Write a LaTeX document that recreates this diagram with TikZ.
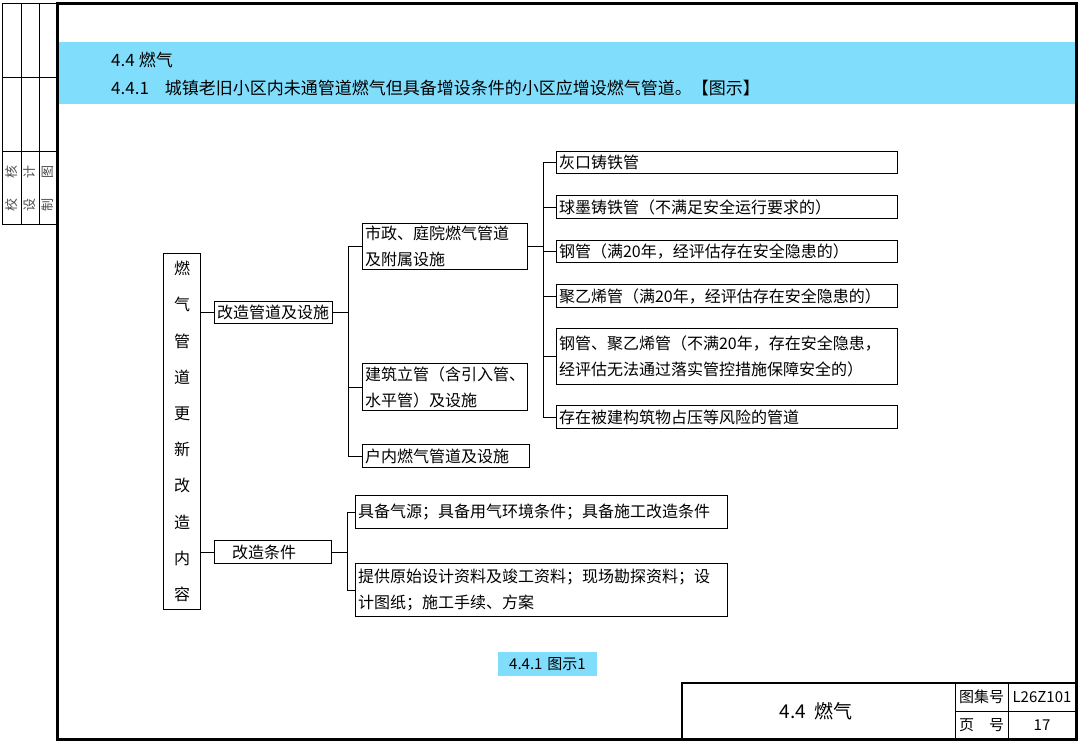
\documentclass[tikz,border=0pt]{standalone}
\usepackage{fontspec}
\setmainfont{Noto Sans CJK SC}
\usetikzlibrary{positioning}
\definecolor{bandcyan}{RGB}{128,222,252}

\begin{document}
\begin{tikzpicture}[x=1pt, y=-1pt,
	every node/.style={font=\fontsize{16}{26}\selectfont, inner sep=0pt},
	itembox/.style={draw, line width=1.1pt, anchor=north west, align=left, inner xsep=2.5pt},
	link/.style={line width=1.1pt},
	striptext/.style={rotate=90, font=\fontsize{13}{13}\selectfont, text=black!70}]
	\useasboundingbox (0,0) rectangle (1080,744);
	% header band and frame
	\fill[bandcyan] (57,42) rectangle (1076,104);
	\draw[line width=3pt] (57,3.5) rectangle (1076,739.5);
	\draw[line width=1pt] (2,3.5) rectangle (57,224) (21,3.5) -- (21,224) (39,3.5) -- (39,224) (2,77) -- (57,77) (2,151) -- (57,151);
	\node[striptext] (chk) at (11.5,188) {校\hspace{20pt}核};
	\node[striptext] (dsg) at (30,188) {设\hspace{20pt}计};
	\node[striptext] (drw) at (48,188) {制\hspace{20pt}图};
	\node[anchor=west, font=\fontsize{17}{17}\selectfont] (sec) at (111,60) {4.4\hspace{4pt}燃气};
	\node[anchor=west, font=\fontsize{17}{17}\selectfont] (clause) at (111,88) {4.4.1\hspace{16pt}城镇老旧小区内未通管道燃气但具备增设条件的小区应增设燃气管道。【图示】};
	% tree
	\node[itembox, align=center, text width=32pt, minimum height=356pt, font=\fontsize{16}{36.2}\selectfont] (root) at (163,253) {燃\\气\\管\\道\\更\\新\\改\\造\\内\\容};
	\node[itembox, text width=113pt, minimum height=22pt] (g1) at (214,301) {改造管道及设施};
	\node[itembox, text width=112pt, minimum height=23pt] (g2) at (214,540) {\hspace{15pt}改造条件};
	\node[itembox, text width=160pt, minimum height=46pt] (b1) at (362,223) {市政、庭院燃气管道\\及附属设施};
	\node[itembox, text width=160pt, minimum height=47pt] (b2) at (362,363) {建筑立管（含引入管、\\水平管）及设施};
	\node[itembox, text width=162pt, minimum height=23pt] (b3) at (362,444) {户内燃气管道及设施};
	\node[itembox, text width=336pt, minimum height=22pt] (c1) at (556,151) {灰口铸铁管};
	\node[itembox, text width=336pt, minimum height=23pt] (c2) at (556,195) {球墨铸铁管（不满足安全运行要求的）};
	\node[itembox, text width=336pt, minimum height=22pt] (c3) at (556,240) {钢管（满20年，经评估存在安全隐患的）};
	\node[itembox, text width=336pt, minimum height=23pt] (c4) at (556,284) {聚乙烯管（满20年，经评估存在安全隐患的）};
	\node[itembox, text width=336pt, minimum height=56pt] (c5) at (556,328) {钢管、聚乙烯管（不满20年，存在安全隐患，\\经评估无法通过落实管控措施保障安全的）};
	\node[itembox, text width=336pt, minimum height=23pt] (c6) at (556,405) {存在被建构筑物占压等风险的管道};
	\node[itembox, text width=367pt, minimum height=33pt] (d1) at (355,495) {具备气源；具备用气环境条件；具备施工改造条件};
	\node[itembox, text width=367pt, minimum height=53pt] (d2) at (355,563) {提供原始设计资料及竣工资料；现场勘探资料；设\\计图纸；施工手续、方案};
	\draw[link] (root.east |- g1.west) -- (g1.west);
	\draw[link] (root.east |- g2.west) -- (g2.west);
	\draw[link] (g1.east) -- ++(15,0) |- (b1.west);
	\draw[link] (g1.east) ++(15,0) |- (b2.west);
	\draw[link] (g1.east) ++(15,0) |- (b3.west);
	\foreach \c in {c1,c2,c3,c4,c5,c6} {\draw[link] (b1.east) -- ++(15,0) |- (\c.west);}
	\draw[link] (g2.east) -- ++(15,0) |- (d1.west);
	\draw[link] (g2.east) ++(15,0) |- (d2.west);
	% caption and title block
	\node[fill=bandcyan, minimum width=99pt, minimum height=24pt, font=\fontsize{15}{15}\selectfont] (cap) at (547.5,664) {4.4.1\hspace{5pt}图示1};
	\draw[line width=2pt] (682,740) -- (682,683) -- (1076,683);
	\draw[line width=1pt] (955,683) -- (955,740) (1008,683) -- (1008,740) (955,711) -- (1076,711);
	\node[font=\fontsize{19}{19}\selectfont] (ttl) at (816,711) {4.4\hspace{8pt}燃气};
	\node[font=\fontsize{15}{15}\selectfont] (setl) at (981.5,697) {图集号};
	\node[font=\fontsize{15}{15}\selectfont] (setn) at (1042,697) {L26Z101};
	\node[font=\fontsize{15}{15}\selectfont] (pgl) at (981.5,725) {页\hspace{15pt}号};
	\node[font=\fontsize{15}{15}\selectfont] (pgn) at (1042,725) {17};
\end{tikzpicture}
\end{document}
